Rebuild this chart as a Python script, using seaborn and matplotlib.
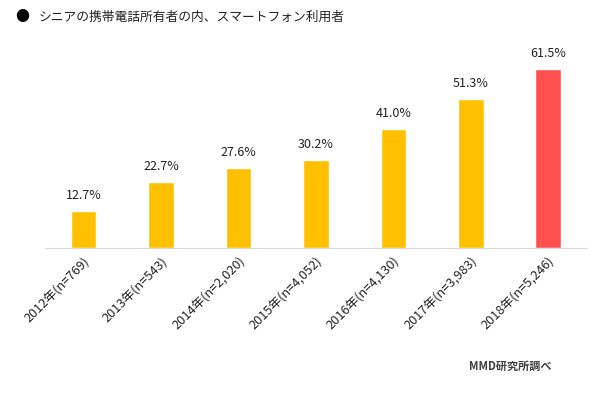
import pandas as pd
import matplotlib
matplotlib.use('Agg')
import matplotlib.pyplot as plt
import seaborn as sns

# chart data
years = ['2012年(n=769)', '2013年(n=543)', '2014年(n=2,020)', '2015年(n=4,052)',
         '2016年(n=4,130)', '2017年(n=3,983)', '2018年(n=5,246)']
share = [12.7, 22.7, 27.6, 30.2, 41.0, 51.3, 61.5]
highlight = ['past', 'past', 'past', 'past', 'past', 'past', 'latest']

df = pd.DataFrame({'year': years, 'share': share, 'kind': highlight})

sns.set_style('white')
plt.rcParams['font.family'] = ['Noto Sans CJK JP', 'DejaVu Sans']

fig = plt.figure(figsize=(5.97, 3.94), dpi=100)
ax = fig.add_axes([0.0754, 0.3706, 0.9076, 0.5174])

sns.barplot(data=df, x='year', y='share', hue='kind',
            palette={'past': '#FFC000', 'latest': '#FF5050'},
            saturation=1, width=0.33, dodge=False, legend=False, ax=ax)

for i, v in enumerate(share):
    ax.text(i, v + 3, f'{v:.1f}%', ha='center', va='bottom', fontsize=9, color='#222222')

ax.set_ylim(0, 70)
ax.set_xlim(-0.5, 6.5)
ax.set_xlabel('')
ax.set_ylabel('')
ax.set_yticks([])
for s in ['top', 'right', 'left']:
    ax.spines[s].set_visible(False)
ax.spines['bottom'].set_color('#d9d9d9')
ax.tick_params(axis='x', length=0, pad=5)
plt.setp(ax.get_xticklabels(), rotation=45, ha='right', rotation_mode='anchor',
         fontsize=9.2, color='#222222')

fig.text(15 / 597, 1 - 17 / 394, '●', fontsize=10, va='center', ha='left', color='black')
fig.text(39 / 597, 1 - 17 / 394, 'シニアの携帯電話所有者の内、スマートフォン利用者',
         fontsize=9.2, va='center', ha='left', color='#222222')
fig.text(552 / 597, 1 - 366 / 394, 'MMD研究所調べ', fontsize=8, fontweight='bold',
         va='center', ha='right', color='#404040')

fig.savefig('out.png', dpi=100)
